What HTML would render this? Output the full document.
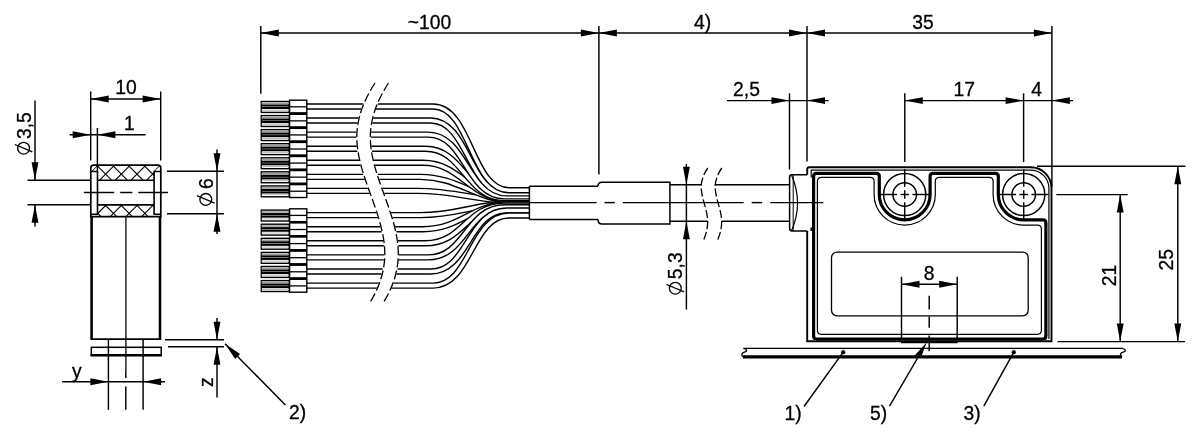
<!DOCTYPE html>
<html>
<head>
<meta charset="utf-8">
<title>Dimension drawing</title>
<style>
html,body{margin:0;padding:0;background:#fff;}
body{width:1200px;height:439px;overflow:hidden;font-family:"Liberation Sans",sans-serif;}
svg{display:block;will-change:transform;}
</style>
</head>
<body>
<svg width="1200" height="439" viewBox="0 0 1200 439" font-family="'Liberation Sans', sans-serif" stroke="#000" fill="none" stroke-linecap="butt">
<path d="M306,190.92 H418 C456,190.92 483,201.8 521,201.8 H530" stroke="#000" stroke-width="6.4" fill="none"/>
<path d="M306,190.92 H418 C456,190.92 483,201.8 521,201.8 H530" stroke="#fff" stroke-width="3.6" fill="none"/>
<path d="M306,176.85 H420.5 C458.5,176.85 477,200.8 515,200.8 H530" stroke="#000" stroke-width="6.4" fill="none"/>
<path d="M306,176.85 H420.5 C458.5,176.85 477,200.8 515,200.8 H530" stroke="#fff" stroke-width="3.6" fill="none"/>
<path d="M306,162.78 H423 C461,162.78 471,199.7 509,199.7 H530" stroke="#000" stroke-width="6.4" fill="none"/>
<path d="M306,162.78 H423 C461,162.78 471,199.7 509,199.7 H530" stroke="#fff" stroke-width="3.6" fill="none"/>
<path d="M306,148.71 H425.5 C463.5,148.71 466.5,198.3 504.5,198.3 H530" stroke="#000" stroke-width="6.4" fill="none"/>
<path d="M306,148.71 H425.5 C463.5,148.71 466.5,198.3 504.5,198.3 H530" stroke="#fff" stroke-width="3.6" fill="none"/>
<path d="M306,134.64 H428 C466,134.64 466.5,196.4 504.5,196.4 H530" stroke="#000" stroke-width="6.4" fill="none"/>
<path d="M306,134.64 H428 C466,134.64 466.5,196.4 504.5,196.4 H530" stroke="#fff" stroke-width="3.6" fill="none"/>
<path d="M306,120.57 H430.5 C468.5,120.57 468.5,193.4 506.5,193.4 H530" stroke="#000" stroke-width="6.4" fill="none"/>
<path d="M306,120.57 H430.5 C468.5,120.57 468.5,193.4 506.5,193.4 H530" stroke="#fff" stroke-width="3.6" fill="none"/>
<path d="M306,106.5 H433 C471,106.5 471,190.25 509,190.25 H530" stroke="#000" stroke-width="6.4" fill="none"/>
<path d="M306,106.5 H433 C471,106.5 471,190.25 509,190.25 H530" stroke="#fff" stroke-width="3.6" fill="none"/>
<path d="M306,215.1 H420.5 C458.5,215.1 477,203.2 515,203.2 H530" stroke="#000" stroke-width="6.4" fill="none"/>
<path d="M306,215.1 H420.5 C458.5,215.1 477,203.2 515,203.2 H530" stroke="#fff" stroke-width="3.6" fill="none"/>
<path d="M306,229.2 H423 C461,229.2 471,204.3 509,204.3 H530" stroke="#000" stroke-width="6.4" fill="none"/>
<path d="M306,229.2 H423 C461,229.2 471,204.3 509,204.3 H530" stroke="#fff" stroke-width="3.6" fill="none"/>
<path d="M306,243.3 H425.5 C463.5,243.3 466.5,205.5 504.5,205.5 H530" stroke="#000" stroke-width="6.4" fill="none"/>
<path d="M306,243.3 H425.5 C463.5,243.3 466.5,205.5 504.5,205.5 H530" stroke="#fff" stroke-width="3.6" fill="none"/>
<path d="M306,257.4 H428 C466,257.4 466.5,207.2 504.5,207.2 H530" stroke="#000" stroke-width="6.4" fill="none"/>
<path d="M306,257.4 H428 C466,257.4 466.5,207.2 504.5,207.2 H530" stroke="#fff" stroke-width="3.6" fill="none"/>
<path d="M306,271.5 H430.5 C468.5,271.5 468.5,210.5 506.5,210.5 H530" stroke="#000" stroke-width="6.4" fill="none"/>
<path d="M306,271.5 H430.5 C468.5,271.5 468.5,210.5 506.5,210.5 H530" stroke="#fff" stroke-width="3.6" fill="none"/>
<path d="M306,285.6 H433 C471,285.6 471,215.55 509,215.55 H530" stroke="#000" stroke-width="6.4" fill="none"/>
<path d="M306,285.6 H433 C471,285.6 471,215.55 509,215.55 H530" stroke="#fff" stroke-width="3.6" fill="none"/>
<path d="M375,83 C364,100 356.8,118 356.8,137 C356.8,176 384.8,214 384.8,254 C384.8,272 378.5,289 369.8,302.6 L383.3,302.6 C392,289 398.3,272 398.3,254 C398.3,214 370.3,176 370.3,137 C370.3,118 377.5,100 388.5,83 Z" fill="#fff" stroke="#fff" stroke-width="1.2"/>
<path d="M375,83 C364,100 356.8,118 356.8,137 C356.8,176 384.8,214 384.8,254 C384.8,272 378.5,289 369.8,302.6" stroke-width="1.3" fill="none" stroke-dasharray="9 3.2"/>
<path d="M388.5,83 C377.5,100 370.3,118 370.3,137 C370.3,176 398.3,214 398.3,254 C398.3,272 392,289 383.3,302.6" stroke-width="1.3" fill="none" stroke-dasharray="9 3.2"/>
<rect x="261.3" y="101.5" width="27.8" height="10.9" rx="0" stroke-width="1.4" fill="#fff" />
<line x1="261.5" y1="103.4" x2="289" y2="103.4" stroke="#999" stroke-width="1.5"/>
<line x1="261.5" y1="105.5" x2="289" y2="105.5" stroke="#000" stroke-width="2.1"/>
<line x1="261.5" y1="108" x2="289" y2="108" stroke="#000" stroke-width="2.1"/>
<line x1="261.5" y1="110.3" x2="289" y2="110.3" stroke="#bbb" stroke-width="1"/>
<rect x="289.6" y="100.2" width="17.2" height="12.9" rx="0" stroke-width="1.4" fill="#fff" />
<line x1="289.6" y1="106.8" x2="306.8" y2="106.8" stroke-width="1.3" />
<rect x="261.3" y="115.57" width="27.8" height="10.9" rx="0" stroke-width="1.4" fill="#fff" />
<line x1="261.5" y1="117.47" x2="289" y2="117.47" stroke="#999" stroke-width="1.5"/>
<line x1="261.5" y1="119.57" x2="289" y2="119.57" stroke="#000" stroke-width="2.1"/>
<line x1="261.5" y1="122.07" x2="289" y2="122.07" stroke="#000" stroke-width="2.1"/>
<line x1="261.5" y1="124.37" x2="289" y2="124.37" stroke="#bbb" stroke-width="1"/>
<rect x="289.6" y="114.27" width="17.2" height="12.9" rx="0" stroke-width="1.4" fill="#fff" />
<line x1="289.6" y1="120.87" x2="306.8" y2="120.87" stroke-width="1.3" />
<rect x="261.3" y="129.64" width="27.8" height="10.9" rx="0" stroke-width="1.4" fill="#fff" />
<line x1="261.5" y1="131.54" x2="289" y2="131.54" stroke="#999" stroke-width="1.5"/>
<line x1="261.5" y1="133.64" x2="289" y2="133.64" stroke="#000" stroke-width="2.1"/>
<line x1="261.5" y1="136.14" x2="289" y2="136.14" stroke="#000" stroke-width="2.1"/>
<line x1="261.5" y1="138.44" x2="289" y2="138.44" stroke="#bbb" stroke-width="1"/>
<rect x="289.6" y="128.34" width="17.2" height="12.9" rx="0" stroke-width="1.4" fill="#fff" />
<line x1="289.6" y1="134.94" x2="306.8" y2="134.94" stroke-width="1.3" />
<rect x="261.3" y="143.71" width="27.8" height="10.9" rx="0" stroke-width="1.4" fill="#fff" />
<line x1="261.5" y1="145.61" x2="289" y2="145.61" stroke="#999" stroke-width="1.5"/>
<line x1="261.5" y1="147.71" x2="289" y2="147.71" stroke="#000" stroke-width="2.1"/>
<line x1="261.5" y1="150.21" x2="289" y2="150.21" stroke="#000" stroke-width="2.1"/>
<line x1="261.5" y1="152.51" x2="289" y2="152.51" stroke="#bbb" stroke-width="1"/>
<rect x="289.6" y="142.41" width="17.2" height="12.9" rx="0" stroke-width="1.4" fill="#fff" />
<line x1="289.6" y1="149.01" x2="306.8" y2="149.01" stroke-width="1.3" />
<rect x="261.3" y="157.78" width="27.8" height="10.9" rx="0" stroke-width="1.4" fill="#fff" />
<line x1="261.5" y1="159.68" x2="289" y2="159.68" stroke="#999" stroke-width="1.5"/>
<line x1="261.5" y1="161.78" x2="289" y2="161.78" stroke="#000" stroke-width="2.1"/>
<line x1="261.5" y1="164.28" x2="289" y2="164.28" stroke="#000" stroke-width="2.1"/>
<line x1="261.5" y1="166.58" x2="289" y2="166.58" stroke="#bbb" stroke-width="1"/>
<rect x="289.6" y="156.48" width="17.2" height="12.9" rx="0" stroke-width="1.4" fill="#fff" />
<line x1="289.6" y1="163.08" x2="306.8" y2="163.08" stroke-width="1.3" />
<rect x="261.3" y="171.85" width="27.8" height="10.9" rx="0" stroke-width="1.4" fill="#fff" />
<line x1="261.5" y1="173.75" x2="289" y2="173.75" stroke="#999" stroke-width="1.5"/>
<line x1="261.5" y1="175.85" x2="289" y2="175.85" stroke="#000" stroke-width="2.1"/>
<line x1="261.5" y1="178.35" x2="289" y2="178.35" stroke="#000" stroke-width="2.1"/>
<line x1="261.5" y1="180.65" x2="289" y2="180.65" stroke="#bbb" stroke-width="1"/>
<rect x="289.6" y="170.55" width="17.2" height="12.9" rx="0" stroke-width="1.4" fill="#fff" />
<line x1="289.6" y1="177.15" x2="306.8" y2="177.15" stroke-width="1.3" />
<rect x="261.3" y="185.92" width="27.8" height="10.9" rx="0" stroke-width="1.4" fill="#fff" />
<line x1="261.5" y1="187.82" x2="289" y2="187.82" stroke="#999" stroke-width="1.5"/>
<line x1="261.5" y1="189.92" x2="289" y2="189.92" stroke="#000" stroke-width="2.1"/>
<line x1="261.5" y1="192.42" x2="289" y2="192.42" stroke="#000" stroke-width="2.1"/>
<line x1="261.5" y1="194.72" x2="289" y2="194.72" stroke="#bbb" stroke-width="1"/>
<rect x="289.6" y="184.62" width="17.2" height="12.9" rx="0" stroke-width="1.4" fill="#fff" />
<line x1="289.6" y1="191.22" x2="306.8" y2="191.22" stroke-width="1.3" />
<rect x="261.3" y="210.1" width="27.8" height="10.9" rx="0" stroke-width="1.4" fill="#fff" />
<line x1="261.5" y1="212" x2="289" y2="212" stroke="#999" stroke-width="1.5"/>
<line x1="261.5" y1="214.1" x2="289" y2="214.1" stroke="#000" stroke-width="2.1"/>
<line x1="261.5" y1="216.6" x2="289" y2="216.6" stroke="#000" stroke-width="2.1"/>
<line x1="261.5" y1="218.9" x2="289" y2="218.9" stroke="#bbb" stroke-width="1"/>
<rect x="289.6" y="208.8" width="17.2" height="12.9" rx="0" stroke-width="1.4" fill="#fff" />
<line x1="289.6" y1="215.4" x2="306.8" y2="215.4" stroke-width="1.3" />
<rect x="261.3" y="224.2" width="27.8" height="10.9" rx="0" stroke-width="1.4" fill="#fff" />
<line x1="261.5" y1="226.1" x2="289" y2="226.1" stroke="#999" stroke-width="1.5"/>
<line x1="261.5" y1="228.2" x2="289" y2="228.2" stroke="#000" stroke-width="2.1"/>
<line x1="261.5" y1="230.7" x2="289" y2="230.7" stroke="#000" stroke-width="2.1"/>
<line x1="261.5" y1="233" x2="289" y2="233" stroke="#bbb" stroke-width="1"/>
<rect x="289.6" y="222.9" width="17.2" height="12.9" rx="0" stroke-width="1.4" fill="#fff" />
<line x1="289.6" y1="229.5" x2="306.8" y2="229.5" stroke-width="1.3" />
<rect x="261.3" y="238.3" width="27.8" height="10.9" rx="0" stroke-width="1.4" fill="#fff" />
<line x1="261.5" y1="240.2" x2="289" y2="240.2" stroke="#999" stroke-width="1.5"/>
<line x1="261.5" y1="242.3" x2="289" y2="242.3" stroke="#000" stroke-width="2.1"/>
<line x1="261.5" y1="244.8" x2="289" y2="244.8" stroke="#000" stroke-width="2.1"/>
<line x1="261.5" y1="247.1" x2="289" y2="247.1" stroke="#bbb" stroke-width="1"/>
<rect x="289.6" y="237" width="17.2" height="12.9" rx="0" stroke-width="1.4" fill="#fff" />
<line x1="289.6" y1="243.6" x2="306.8" y2="243.6" stroke-width="1.3" />
<rect x="261.3" y="252.4" width="27.8" height="10.9" rx="0" stroke-width="1.4" fill="#fff" />
<line x1="261.5" y1="254.3" x2="289" y2="254.3" stroke="#999" stroke-width="1.5"/>
<line x1="261.5" y1="256.4" x2="289" y2="256.4" stroke="#000" stroke-width="2.1"/>
<line x1="261.5" y1="258.9" x2="289" y2="258.9" stroke="#000" stroke-width="2.1"/>
<line x1="261.5" y1="261.2" x2="289" y2="261.2" stroke="#bbb" stroke-width="1"/>
<rect x="289.6" y="251.1" width="17.2" height="12.9" rx="0" stroke-width="1.4" fill="#fff" />
<line x1="289.6" y1="257.7" x2="306.8" y2="257.7" stroke-width="1.3" />
<rect x="261.3" y="266.5" width="27.8" height="10.9" rx="0" stroke-width="1.4" fill="#fff" />
<line x1="261.5" y1="268.4" x2="289" y2="268.4" stroke="#999" stroke-width="1.5"/>
<line x1="261.5" y1="270.5" x2="289" y2="270.5" stroke="#000" stroke-width="2.1"/>
<line x1="261.5" y1="273" x2="289" y2="273" stroke="#000" stroke-width="2.1"/>
<line x1="261.5" y1="275.3" x2="289" y2="275.3" stroke="#bbb" stroke-width="1"/>
<rect x="289.6" y="265.2" width="17.2" height="12.9" rx="0" stroke-width="1.4" fill="#fff" />
<line x1="289.6" y1="271.8" x2="306.8" y2="271.8" stroke-width="1.3" />
<rect x="261.3" y="280.6" width="27.8" height="10.9" rx="0" stroke-width="1.4" fill="#fff" />
<line x1="261.5" y1="282.5" x2="289" y2="282.5" stroke="#999" stroke-width="1.5"/>
<line x1="261.5" y1="284.6" x2="289" y2="284.6" stroke="#000" stroke-width="2.1"/>
<line x1="261.5" y1="287.1" x2="289" y2="287.1" stroke="#000" stroke-width="2.1"/>
<line x1="261.5" y1="289.4" x2="289" y2="289.4" stroke="#bbb" stroke-width="1"/>
<rect x="289.6" y="279.3" width="17.2" height="12.9" rx="0" stroke-width="1.4" fill="#fff" />
<line x1="289.6" y1="285.9" x2="306.8" y2="285.9" stroke-width="1.3" />
<line x1="289.4" y1="113.33" x2="307" y2="113.33" stroke-width="2" />
<line x1="289.4" y1="127.4" x2="307" y2="127.4" stroke-width="2" />
<line x1="289.4" y1="141.48" x2="307" y2="141.48" stroke-width="2" />
<line x1="289.4" y1="155.55" x2="307" y2="155.55" stroke-width="2" />
<line x1="289.4" y1="169.62" x2="307" y2="169.62" stroke-width="2" />
<line x1="289.4" y1="183.69" x2="307" y2="183.69" stroke-width="2" />
<line x1="289.4" y1="221.95" x2="307" y2="221.95" stroke-width="2" />
<line x1="289.4" y1="236.05" x2="307" y2="236.05" stroke-width="2" />
<line x1="289.4" y1="250.15" x2="307" y2="250.15" stroke-width="2" />
<line x1="289.4" y1="264.25" x2="307" y2="264.25" stroke-width="2" />
<line x1="289.4" y1="278.35" x2="307" y2="278.35" stroke-width="2" />
<line x1="90.7" y1="91.5" x2="90.7" y2="160.5" stroke-width="1.45" />
<line x1="160.7" y1="91.5" x2="160.7" y2="160.5" stroke-width="1.45" />
<line x1="90.7" y1="99" x2="160.7" y2="99" stroke-width="1.45" />
<polygon points="90.7,99 108.7,95.55 108.7,102.45" fill="#000" stroke="none"/>
<polygon points="160.7,99 142.7,102.45 142.7,95.55" fill="#000" stroke="none"/>
<text x="126" y="94" font-size="19.3" text-anchor="middle" stroke="#000" stroke-width="0.3" fill="#000">10</text>
<line x1="97.4" y1="128" x2="97.4" y2="171" stroke-width="1.45" />
<line x1="69.7" y1="134.7" x2="145.7" y2="134.7" stroke-width="1.45" />
<polygon points="90.7,134.7 72.7,138.15 72.7,131.25" fill="#000" stroke="none"/>
<polygon points="97.4,134.7 115.4,131.25 115.4,138.15" fill="#000" stroke="none"/>
<text x="129.3" y="130.4" font-size="19.3" text-anchor="middle" stroke="#000" stroke-width="0.3" fill="#000">1</text>
<line x1="35" y1="100.5" x2="35" y2="180.3" stroke-width="1.45" />
<line x1="35" y1="204.7" x2="35" y2="226.5" stroke-width="1.45" />
<polygon points="35,180.3 31.55,162.3 38.45,162.3" fill="#000" stroke="none"/>
<polygon points="35,204.7 38.45,222.7 31.55,222.7" fill="#000" stroke="none"/>
<line x1="27.5" y1="180.3" x2="90.7" y2="180.3" stroke-width="1.45" />
<line x1="27.5" y1="204.7" x2="90.7" y2="204.7" stroke-width="1.45" />
<g transform="rotate(-90 30.4 154.8)"><circle cx="37" cy="148" r="5.9" stroke-width="1.3" fill="none"/><line x1="33.3" y1="156.8" x2="40.7" y2="139.2" stroke-width="1.3"/></g>
<text x="30.6" y="139" font-size="19.3" text-anchor="start" stroke="#000" stroke-width="0.3" fill="#000" transform="rotate(-90 30.6 139)">3,5</text>
<line x1="167" y1="171.3" x2="224" y2="171.3" stroke-width="1.45" />
<line x1="167" y1="213.8" x2="224" y2="213.8" stroke-width="1.45" />
<line x1="217" y1="149.5" x2="217" y2="234" stroke-width="1.45" />
<polygon points="217,171.3 213.55,153.3 220.45,153.3" fill="#000" stroke="none"/>
<polygon points="217,213.8 220.45,231.8 213.55,231.8" fill="#000" stroke="none"/>
<g transform="rotate(-90 212.6 206)"><circle cx="219.2" cy="199.2" r="5.9" stroke-width="1.3" fill="none"/><line x1="215.5" y1="208" x2="222.9" y2="190.4" stroke-width="1.3"/></g>
<text x="212.8" y="189" font-size="19.3" text-anchor="start" stroke="#000" stroke-width="0.3" fill="#000" transform="rotate(-90 212.8 189)">6</text>
<clipPath id="hc"><rect x="97.6" y="165.2" width="56.4" height="15.1"/><rect x="97.6" y="204.7" width="56.4" height="11.6"/></clipPath>
<g clip-path="url(#hc)" stroke-width="1.1"><line x1="-2.7" y1="160" x2="57.3" y2="220"/><line x1="25.5" y1="160" x2="-34.5" y2="220"/><line x1="13" y1="160" x2="73" y2="220"/><line x1="41.2" y1="160" x2="-18.8" y2="220"/><line x1="28.7" y1="160" x2="88.7" y2="220"/><line x1="56.9" y1="160" x2="-3.1" y2="220"/><line x1="44.4" y1="160" x2="104.4" y2="220"/><line x1="72.6" y1="160" x2="12.6" y2="220"/><line x1="60.1" y1="160" x2="120.1" y2="220"/><line x1="88.3" y1="160" x2="28.3" y2="220"/><line x1="75.8" y1="160" x2="135.8" y2="220"/><line x1="104" y1="160" x2="44" y2="220"/><line x1="91.5" y1="160" x2="151.5" y2="220"/><line x1="119.7" y1="160" x2="59.7" y2="220"/><line x1="107.2" y1="160" x2="167.2" y2="220"/><line x1="135.4" y1="160" x2="75.4" y2="220"/><line x1="122.9" y1="160" x2="182.9" y2="220"/><line x1="151.1" y1="160" x2="91.1" y2="220"/><line x1="138.6" y1="160" x2="198.6" y2="220"/><line x1="166.8" y1="160" x2="106.8" y2="220"/><line x1="154.3" y1="160" x2="214.3" y2="220"/><line x1="182.5" y1="160" x2="122.5" y2="220"/><line x1="170" y1="160" x2="230" y2="220"/><line x1="198.2" y1="160" x2="138.2" y2="220"/><line x1="185.7" y1="160" x2="245.7" y2="220"/><line x1="213.9" y1="160" x2="153.9" y2="220"/><line x1="201.4" y1="160" x2="261.4" y2="220"/><line x1="229.6" y1="160" x2="169.6" y2="220"/></g>
<path d="M90.8,216.6 V168 Q90.8,165.1 93.8,165.1 H157.8 Q160.8,165.1 160.8,168 V216.6 Z" stroke-width="1.7" fill="none" />
<path d="M91,171.5 H97.5 V214.2 H91" stroke-width="1.6" fill="none" />
<path d="M160.6,171.5 H154.1 V214.2 H160.6" stroke-width="1.6" fill="none" />
<line x1="92" y1="171.2" x2="97.6" y2="165.6" stroke-width="1" />
<line x1="154.2" y1="171.2" x2="159.8" y2="165.6" stroke-width="1" />
<line x1="97.5" y1="180.3" x2="154.1" y2="180.3" stroke-width="1.6" />
<line x1="97.5" y1="204.9" x2="154.1" y2="204.9" stroke-width="1.6" />
<line x1="83.8" y1="192.5" x2="114.2" y2="192.5" stroke-width="1.45" />
<line x1="120.2" y1="192.5" x2="132.3" y2="192.5" stroke-width="1.45" />
<line x1="138.3" y1="192.5" x2="168" y2="192.5" stroke-width="1.45" />
<line x1="91.6" y1="216.6" x2="91.6" y2="339.2" stroke-width="2.6" />
<line x1="160" y1="216.6" x2="160" y2="339.2" stroke-width="2.6" />
<line x1="90.4" y1="339.2" x2="161.2" y2="339.2" stroke-width="1.8" />
<line x1="125.9" y1="216.6" x2="125.9" y2="371" stroke-width="1.3" />
<rect x="91.3" y="347.3" width="69.9" height="7.6" rx="0" stroke-width="1.5" fill="none" />
<line x1="90.5" y1="355.3" x2="162" y2="355.3" stroke-width="2.6" />
<line x1="108.4" y1="339.2" x2="108.4" y2="409.8" stroke-width="1.45" />
<line x1="143.1" y1="339.2" x2="143.1" y2="409.8" stroke-width="1.45" />
<line x1="125.8" y1="371" x2="125.8" y2="378" stroke-width="1.45" />
<line x1="125.8" y1="386.6" x2="125.8" y2="409.8" stroke-width="1.45" />
<line x1="62" y1="381.8" x2="165" y2="381.8" stroke-width="1.45" />
<polygon points="108.4,381.8 90.4,385.25 90.4,378.35" fill="#000" stroke="none"/>
<polygon points="143.1,381.8 161.1,378.35 161.1,385.25" fill="#000" stroke="none"/>
<text x="72" y="377.5" font-size="19.3" text-anchor="start" stroke="#000" stroke-width="0.3" fill="#000">y</text>
<line x1="165" y1="339.8" x2="224" y2="339.8" stroke-width="1.45" />
<line x1="168" y1="346.8" x2="224" y2="346.8" stroke-width="1.45" />
<line x1="217" y1="318" x2="217" y2="339.8" stroke-width="1.45" />
<line x1="217" y1="346.8" x2="217" y2="397.4" stroke-width="1.45" />
<polygon points="217,339.8 213.55,321.8 220.45,321.8" fill="#000" stroke="none"/>
<polygon points="217,346.8 220.45,364.8 213.55,364.8" fill="#000" stroke="none"/>
<text x="213" y="387" font-size="19.3" text-anchor="start" stroke="#000" stroke-width="0.3" fill="#000" transform="rotate(-90 213 387)">z</text>
<line x1="225" y1="343.7" x2="285.4" y2="405" stroke-width="1.45" />
<polygon points="225,343.7 240.09,354.1 235.18,358.94" fill="#000" stroke="none"/>
<text x="289" y="418.5" font-size="19.3" text-anchor="start" stroke="#000" stroke-width="0.3" fill="#000">2)</text>
<path d="M529.4,186.2 H598 M529.4,219.5 H598" stroke-width="1.5" fill="none" />
<line x1="529.4" y1="186.2" x2="529.4" y2="219.5" stroke-width="1.5" />
<path d="M598,186.2 C598,183.5 599,182.3 602,182.3 H669.9 V224 H602 C599,224 598,222.5 598,219.5" stroke-width="1.5" fill="none" />
<line x1="669.9" y1="184.8" x2="701.4" y2="184.8" stroke-width="1.5" />
<line x1="669.9" y1="221.3" x2="707.4" y2="221.3" stroke-width="1.5" />
<line x1="714.8" y1="184.8" x2="789.6" y2="184.8" stroke-width="1.5" />
<line x1="721.6" y1="221.3" x2="789.6" y2="221.3" stroke-width="1.5" />
<path d="M707.8,168 C703.5,174 701,181 701.2,188 C701.6,199 707.9,211 707.7,222 C707.5,229 706,234 703.8,239.5" stroke-width="1.3" fill="none" stroke-dasharray="8 3"/>
<path d="M721.8,168 C717.5,174 715,181 715.2,188 C715.6,199 721.9,211 721.7,222 C721.5,229 720,234 717.8,239.5" stroke-width="1.3" fill="none" stroke-dasharray="8 3"/>
<line x1="529.4" y1="202.6" x2="596.6" y2="202.6" stroke-width="1.45" />
<line x1="604.5" y1="202.6" x2="614.8" y2="202.6" stroke-width="1.45" />
<line x1="622.8" y1="202.6" x2="743.6" y2="202.6" stroke-width="1.45" />
<line x1="751.7" y1="202.6" x2="762.2" y2="202.6" stroke-width="1.45" />
<line x1="770.3" y1="202.6" x2="823.3" y2="202.6" stroke-width="1.45" />
<line x1="686.4" y1="164" x2="686.4" y2="221.3" stroke-width="1.45" />
<line x1="686.4" y1="221.3" x2="686.4" y2="309.5" stroke-width="1.45" />
<polygon points="686.4,184.8 682.95,166.8 689.85,166.8" fill="#000" stroke="none"/>
<polygon points="686.4,221.3 689.85,239.3 682.95,239.3" fill="#000" stroke="none"/>
<g transform="rotate(-90 682.1 294.8)"><circle cx="688.7" cy="288" r="5.9" stroke-width="1.3" fill="none"/><line x1="685" y1="296.8" x2="692.4" y2="279.2" stroke-width="1.3"/></g>
<text x="682.3" y="279.2" font-size="19.3" text-anchor="start" stroke="#000" stroke-width="0.3" fill="#000" transform="rotate(-90 682.3 279.2)">5,3</text>
<line x1="260.8" y1="26" x2="260.8" y2="93.8" stroke-width="1.45" />
<line x1="598.9" y1="26" x2="598.9" y2="174.6" stroke-width="1.45" />
<line x1="807" y1="26" x2="807" y2="161.5" stroke-width="1.45" />
<line x1="1051.9" y1="26" x2="1051.9" y2="187" stroke-width="1.45" />
<line x1="260.8" y1="33" x2="1051.9" y2="33" stroke-width="1.45" />
<polygon points="260.8,33 278.8,29.55 278.8,36.45" fill="#000" stroke="none"/>
<polygon points="598.9,33 580.9,36.45 580.9,29.55" fill="#000" stroke="none"/>
<polygon points="598.9,33 616.9,29.55 616.9,36.45" fill="#000" stroke="none"/>
<polygon points="807,33 789,36.45 789,29.55" fill="#000" stroke="none"/>
<polygon points="807,33 825,29.55 825,36.45" fill="#000" stroke="none"/>
<polygon points="1051.9,33 1033.9,36.45 1033.9,29.55" fill="#000" stroke="none"/>
<text x="429.5" y="29" font-size="19.3" text-anchor="middle" stroke="#000" stroke-width="0.3" fill="#000">~100</text>
<text x="702.5" y="28.5" font-size="19.3" text-anchor="middle" stroke="#000" stroke-width="0.3" fill="#000">4)</text>
<text x="923" y="29" font-size="19.3" text-anchor="middle" stroke="#000" stroke-width="0.3" fill="#000">35</text>
<line x1="789.5" y1="93.3" x2="789.5" y2="169.5" stroke-width="1.45" />
<line x1="727" y1="100.6" x2="828.6" y2="100.6" stroke-width="1.45" />
<polygon points="789.5,100.6 771.5,104.05 771.5,97.15" fill="#000" stroke="none"/>
<polygon points="807,100.6 825,97.15 825,104.05" fill="#000" stroke="none"/>
<text x="746.5" y="96.3" font-size="19.3" text-anchor="middle" stroke="#000" stroke-width="0.3" fill="#000">2,5</text>
<line x1="904.8" y1="93.3" x2="904.8" y2="162" stroke-width="1.45" />
<line x1="1023.6" y1="93.3" x2="1023.6" y2="162" stroke-width="1.45" />
<line x1="904.8" y1="100.6" x2="1073" y2="100.6" stroke-width="1.45" />
<polygon points="904.8,100.6 922.8,97.15 922.8,104.05" fill="#000" stroke="none"/>
<polygon points="1023.6,100.6 1005.6,104.05 1005.6,97.15" fill="#000" stroke="none"/>
<polygon points="1051.9,100.6 1069.9,97.15 1069.9,104.05" fill="#000" stroke="none"/>
<text x="964.3" y="96.3" font-size="19.3" text-anchor="middle" stroke="#000" stroke-width="0.3" fill="#000">17</text>
<text x="1036.6" y="96.3" font-size="19.3" text-anchor="middle" stroke="#000" stroke-width="0.3" fill="#000">4</text>
<path d="M807.2,174.8 H792 Q789.6,174.8 789.6,177.2 V228.5 Q789.6,230.9 792,230.9 H807.2" stroke-width="1.5" fill="none" />
<path d="M791.6,175.2 Q803.5,203 791.6,230.5" stroke-width="1.2" fill="none" />
<line x1="793.2" y1="175" x2="793.2" y2="230.8" stroke-width="1" />
<path d="M807.2,174.8 V169.5 Q807.2,167.3 809.5,167.3 H1030.7 A20.8,20.8 0 0 1 1051.5,188.1 V341.3 H807.2 V230.9" stroke-width="1.9" fill="none" />
<path d="M811.2,177.6 V170.1 H1030.7 A18.2,18.2 0 0 1 1048.9,188.3 V339" stroke-width="1.2" fill="none" />
<path d="M811.2,227.5 V231" stroke-width="1.5" fill="none" />
<path d="M813.6,336 V176.3 Q813.6,173.3 816.6,173.3 H876.3 Q879.3,173.3 879.3,176.3 V194.5 A25.4,25.4 0 0 0 930.1,194.5 V176.3 Q930.1,173.3 933.1,173.3 H995.3 Q998.3,173.3 998.3,176.3 V194.5 A25.4,25.4 0 0 0 1023.7,219.9 H1042.9 Q1045.9,219.9 1045.9,222.9 V336 Q1045.9,339 1042.9,339 H816.6 Q813.6,339 813.6,336 Z" stroke-width="3.2" fill="none" />
<path d="M817.4,330.3 V181.3 Q817.4,177.3 821.4,177.3 H870.1 Q874.1,177.3 874.1,181.3 V194.5 A30.6,30.6 0 0 0 935.3,194.5 V181.3 Q935.3,177.3 939.3,177.3 H989.1 Q993.1,177.3 993.1,181.3 V194.5 A30.6,30.6 0 0 0 1023.7,225.1 H1037.4 Q1041.4,225.1 1041.4,229.1 V330.3 Q1041.4,334.3 1037.4,334.3 H821.4 Q817.4,334.3 817.4,330.3 Z" stroke-width="1.2" fill="none" />
<circle cx="904.7" cy="194.5" r="21.1" stroke-width="1.5" fill="none"/>
<circle cx="904.7" cy="194.5" r="11.8" stroke-width="1.5" fill="none"/>
<line x1="880.3" y1="194.5" x2="897" y2="194.5" stroke-width="1.45" />
<line x1="900.4" y1="194.5" x2="909" y2="194.5" stroke-width="1.45" />
<line x1="912.4" y1="194.5" x2="929.5" y2="194.5" stroke-width="1.45" />
<line x1="904.7" y1="169.2" x2="904.7" y2="186.8" stroke-width="1.45" />
<line x1="904.7" y1="190.2" x2="904.7" y2="198.8" stroke-width="1.45" />
<line x1="904.7" y1="202.2" x2="904.7" y2="218.9" stroke-width="1.45" />
<circle cx="1023.7" cy="194.5" r="21.1" stroke-width="1.5" fill="none"/>
<circle cx="1023.7" cy="194.5" r="11.8" stroke-width="1.5" fill="none"/>
<line x1="999.3" y1="194.5" x2="1016" y2="194.5" stroke-width="1.45" />
<line x1="1019.4" y1="194.5" x2="1028" y2="194.5" stroke-width="1.45" />
<line x1="1031.4" y1="194.5" x2="1048.5" y2="194.5" stroke-width="1.45" />
<line x1="1023.7" y1="169.2" x2="1023.7" y2="186.8" stroke-width="1.45" />
<line x1="1023.7" y1="190.2" x2="1023.7" y2="198.8" stroke-width="1.45" />
<line x1="1023.7" y1="202.2" x2="1023.7" y2="218.9" stroke-width="1.45" />
<rect x="831.5" y="252.2" width="196.7" height="63.6" rx="5.5" stroke-width="1.3" fill="none" />
<line x1="901.5" y1="276.8" x2="901.5" y2="338" stroke-width="1.45" />
<line x1="957.2" y1="276.8" x2="957.2" y2="338" stroke-width="1.45" />
<line x1="901.5" y1="284.2" x2="957.2" y2="284.2" stroke-width="1.45" />
<polygon points="901.5,284.2 919.5,280.75 919.5,287.65" fill="#000" stroke="none"/>
<polygon points="957.2,284.2 939.2,287.65 939.2,280.75" fill="#000" stroke="none"/>
<text x="929.2" y="279.8" font-size="19.3" text-anchor="middle" stroke="#000" stroke-width="0.3" fill="#000">8</text>
<line x1="929.2" y1="295.8" x2="929.2" y2="309.4" stroke-width="1.45" />
<line x1="929.2" y1="316.5" x2="929.2" y2="327.7" stroke-width="1.45" />
<line x1="929.2" y1="335.5" x2="929.2" y2="351.2" stroke-width="1.45" />
<line x1="901" y1="342.2" x2="957.6" y2="342.2" stroke-width="2.2" />
<path d="M743.5,348.3 H1122.5" stroke-width="1.3" fill="none" />
<path d="M743,356.8 H1122" stroke-width="3.3" fill="none" />
<path d="M743.6,348.3 C747.2,349 747.6,351.2 744.4,352.2 C741.2,353.2 740.8,355.6 743.4,356.8" stroke-width="1.3" fill="none" />
<path d="M1122.3,348.3 C1125.9,349 1126.3,351.2 1123.1,352.2 C1119.9,353.2 1119.5,355.6 1122.1,356.8" stroke-width="1.3" fill="none" />
<circle cx="843.2" cy="352.2" r="1.9" stroke-width="0.5" fill="#000"/>
<circle cx="1013.8" cy="352.2" r="1.9" stroke-width="0.5" fill="#000"/>
<line x1="843.2" y1="352.2" x2="804" y2="406.5" stroke-width="1.45" />
<line x1="1013.8" y1="352.2" x2="983.8" y2="406.2" stroke-width="1.45" />
<line x1="889.5" y1="406.2" x2="922" y2="350.5" stroke-width="1.45" />
<polygon points="926.6,342.6 914.6,355.6 921.8,355.6" fill="#000" stroke="none"/>
<text x="784.5" y="419.6" font-size="19.3" text-anchor="start" stroke="#000" stroke-width="0.3" fill="#000">1)</text>
<text x="870" y="419.6" font-size="19.3" text-anchor="start" stroke="#000" stroke-width="0.3" fill="#000">5)</text>
<text x="963.5" y="419.6" font-size="19.3" text-anchor="start" stroke="#000" stroke-width="0.3" fill="#000">3)</text>
<line x1="1037" y1="166.3" x2="1185.4" y2="166.3" stroke-width="1.45" />
<line x1="1056.3" y1="194.6" x2="1127.7" y2="194.6" stroke-width="1.45" />
<line x1="1057.5" y1="341.6" x2="1185" y2="341.6" stroke-width="1.45" />
<line x1="1120.2" y1="194.6" x2="1120.2" y2="341.6" stroke-width="1.45" />
<line x1="1177.8" y1="166.3" x2="1177.8" y2="341.6" stroke-width="1.45" />
<polygon points="1120.2,194.6 1123.65,212.6 1116.75,212.6" fill="#000" stroke="none"/>
<polygon points="1120.2,341.6 1116.75,323.6 1123.65,323.6" fill="#000" stroke="none"/>
<polygon points="1177.8,166.3 1181.25,184.3 1174.35,184.3" fill="#000" stroke="none"/>
<polygon points="1177.8,341.6 1174.35,323.6 1181.25,323.6" fill="#000" stroke="none"/>
<text x="1116.2" y="275.5" font-size="19.3" text-anchor="middle" stroke="#000" stroke-width="0.3" fill="#000" transform="rotate(-90 1116.2 275.5)">21</text>
<text x="1173.4" y="259.8" font-size="19.3" text-anchor="middle" stroke="#000" stroke-width="0.3" fill="#000" transform="rotate(-90 1173.4 259.8)">25</text>
</svg>
</body>
</html>
